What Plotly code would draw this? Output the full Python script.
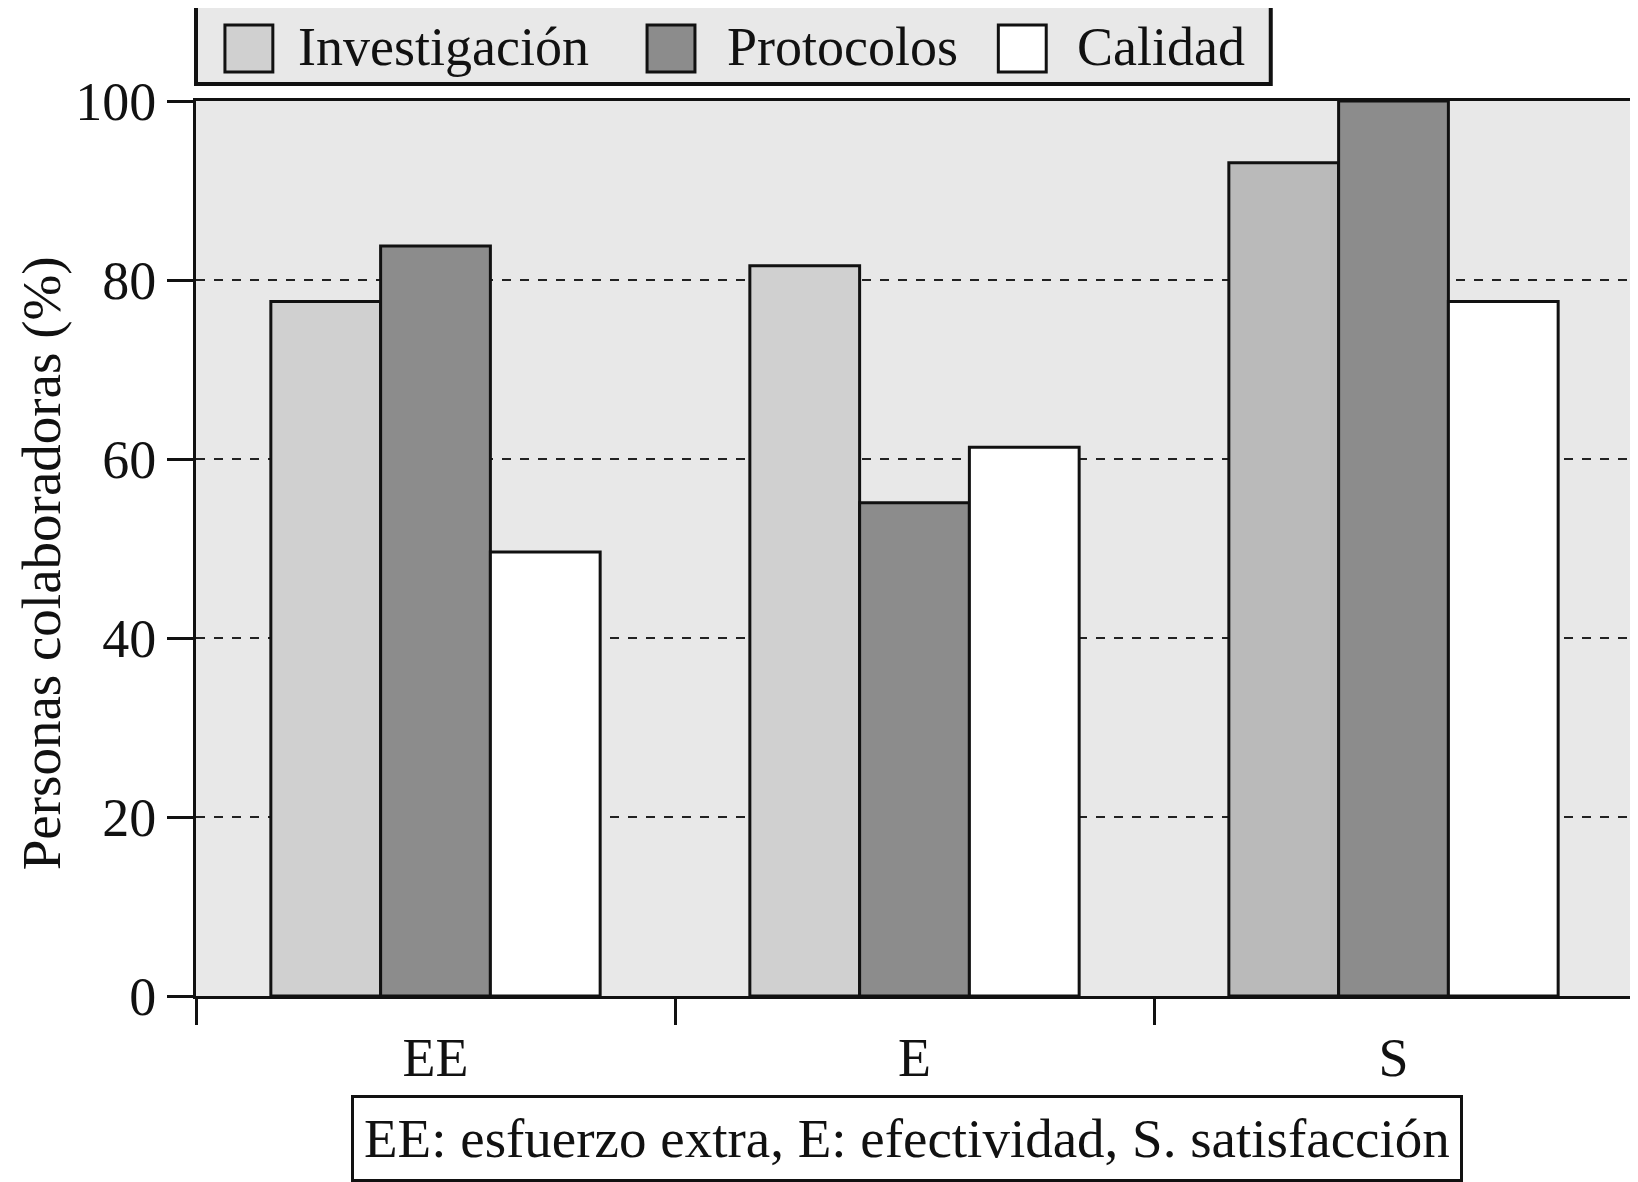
import plotly.graph_objects as go

categories = ["EE", "E", "S"]
series_names = ["Investigación", "Protocolos", "Calidad"]
investigacion = [77.6, 81.6, 93.1]
protocolos = [83.8, 55.1, 100.0]
calidad = [49.6, 61.3, 77.6]
y_ticks = [0, 20, 40, 60, 80, 100]
footnote = "EE: esfuerzo extra, E: efectividad, S. satisfacción"
y_title = "Personas colaboradoras (%)"

inv_colors = ["#d0d0d0", "#d0d0d0", "#bababa"]
series_colors = ["#d0d0d0", "#8c8c8c", "#ffffff"]
FONT = "Liberation Serif"
FS = 54

fig = go.Figure()
for name, vals, col in zip(series_names, [investigacion, protocolos, calidad],
                           [inv_colors, series_colors[1], series_colors[2]]):
    fig.add_trace(go.Bar(x=categories, y=vals, name=name,
                         marker=dict(color=col, line=dict(color="#111111", width=3)),
                         showlegend=False))

OFF = 8  # body margin of the page
W, H = 1638 - OFF, 1182 - OFF
# plot area in page pixels: x 196..1636, y 101..996
PX0, PX1, PY0, PY1 = 196, 1636, 101, 996
L, R = PX0 - OFF, W - (PX1 - OFF)
T, B = PY0 - OFF, H - (PY1 - OFF)
pw, ph = PX1 - PX0, PY1 - PY0

def px(x):
    return (x - PX0) / pw

def py(y):
    return (PY1 - y) / ph

fig.update_layout(
    width=W, height=H,
    margin=dict(l=L, r=R, t=T, b=B, pad=0),
    paper_bgcolor="white", plot_bgcolor="#e8e8e8",
    barmode="group", bargap=0.3125, bargroupgap=0,
    font=dict(family=FONT, size=FS, color="#111111"),
)
fig.update_xaxes(
    type="category", tickson="boundaries", ticks="outside", ticklen=26, tickwidth=3,
    tickcolor="#111111", showline=True, linewidth=3, linecolor="#111111", mirror=True,
    showgrid=False, ticklabelstandoff=12,
    tickfont=dict(family=FONT, size=FS),
)
fig.update_yaxes(
    range=[0, 100], tickvals=y_ticks, ticks="outside", ticklen=26, tickwidth=3,
    tickcolor="#111111", showline=True, linewidth=3, linecolor="#111111", mirror=True,
    showgrid=True, gridcolor="#222222", gridwidth=1.5, griddash="dash",
    zeroline=False, ticklabelstandoff=0,
    tickfont=dict(family=FONT, size=FS),
)

# y-axis title
fig.add_annotation(text=y_title, xref="paper", yref="paper", x=px(41), y=py(563),
                   xanchor="center", yanchor="middle", textangle=-90, showarrow=False,
                   borderpad=0, font=dict(family=FONT, size=55))

# footnote box
fig.add_annotation(text=footnote, xref="paper", yref="paper", x=px(908), y=py(1138),
                   xanchor="center", yanchor="middle", showarrow=False,
                   bordercolor="#111111", borderwidth=3, borderpad=10, bgcolor="white",
                   font=dict(family=FONT, size=55))

# custom legend
fig.add_shape(type="rect", xref="paper", yref="paper",
              x0=px(196), x1=px(1273), y0=py(84), y1=py(2),
              fillcolor="#e8e8e8", line=dict(color="#111111", width=4), layer="above")
sw_x = [225, 648, 1000]
tx_x = [296, 726, 1077]
for name, col, sx, tx in zip(series_names, series_colors, sw_x, tx_x):
    fig.add_shape(type="rect", xref="paper", yref="paper",
                  x0=px(sx), x1=px(sx + 48), y0=py(72), y1=py(25),
                  fillcolor=col, line=dict(color="#111111", width=3), layer="above")
    fig.add_annotation(text=name, xref="paper", yref="paper", x=px(tx), y=py(47),
                       xanchor="left", yanchor="middle", showarrow=False,
                       font=dict(family=FONT, size=FS))

fig.write_html("out.html")
